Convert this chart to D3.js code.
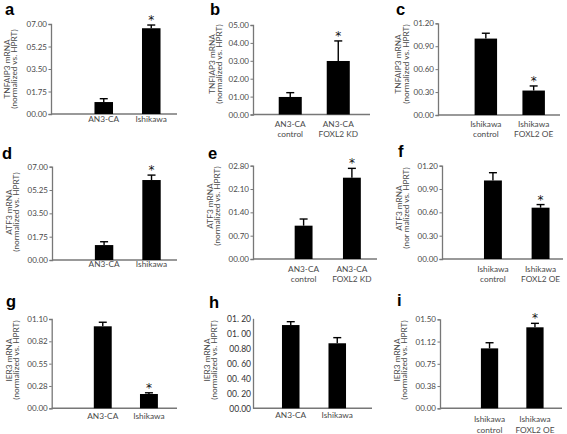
<!DOCTYPE html>
<html><head><meta charset="utf-8">
<script src="https://cdn.jsdelivr.net/npm/d3@7"></script>
<style>body{margin:0;background:#fff}svg{display:block}</style>
</head><body>
<svg id="chart" width="567" height="434"></svg>
<script>
// ---------- DATA ----------
const panelLetters = ["a","b","c","d","e","f","g","h","i"];
const geneLabels = ["TNFAIP3 mRNA","TNFIAP3 mRNA","TNFAIP3 mRNA","ATF3 mRNA","ATF3 mRNA","ATF3 mRNA","IER3 mRNA","IER3 mRNA","IER3 mRNA"];
const normLabels = ["(normalized vs. HPRT)","(normalized vs. HPRT)","(normalized vs. HPRT)","(normalized vs. HPRT)","(normalized vs. HPRT)","(nor malized vs. HPRT)","(normalized vs. HPRT)","(normalized vs. HPRT)","(normalized vs. HPRT)"];
const categories = [
  [["AN3-CA"],["Ishikawa"]],
  [["AN3-CA","control"],["AN3-CA","FOXL2 KD"]],
  [["Ishikawa","control"],["Ishikawa","FOXL2 OE"]],
  [["AN3-CA"],["Ishikawa"]],
  [["AN3-CA","control"],["AN3-CA","FOXL2 KD"]],
  [["Ishikawa","control"],["Ishikawa","FOXL2 OE"]],
  [["AN3-CA"],["Ishikawa"]],
  [["AN3-CA"],["Ishikawa"]],
  [["Ishikawa","control"],["Ishikawa","FOXL2 OE"]]
];
const means = [[0.93,6.67],[0.98,2.99],[1.00,0.32],[1.12,6.00],[1.00,2.44],[1.01,0.66],[1.01,0.176],[1.11,0.867],[1.01,1.365]];
const errors = [[0.26,0.25],[0.24,1.12],[0.07,0.06],[0.25,0.37],[0.20,0.28],[0.10,0.04],[0.05,0.015],[0.045,0.075],[0.095,0.067]];
const significant = [[false,true],[false,true],[false,true],[false,true],[false,true],[false,true],[false,true],[false,false],[false,true]];
const tickValues = [
  [0,1.75,3.5,5.25,7],
  [0,1,2,3,4,5],
  [0,0.3,0.6,0.9,1.2],
  [0,1.75,3.5,5.25,7],
  [0,0.7,1.4,2.1,2.8],
  [0,0.3,0.6,0.9,1.2],
  [0,0.275,0.55,0.825,1.1],
  [0,0.2,0.4,0.6,0.8,1.0,1.2],
  [0,0.375,0.75,1.125,1.5]
];
const tickLabels = [
  ["00.00","01.75","03.50","05.25","07.00"],
  ["00.00","01.00","02.00","03.00","04.00","05.00"],
  ["00.00","00.30","00.60","00.90","01.20"],
  ["00.00","01.75","03.50","05.25","07.00"],
  ["00.00","00.70","01.40","02.10","02.80"],
  ["00.00","00.30","00.60","00.90","01.20"],
  ["00.00","00.28","00.55","00.82","01.10"],
  ["00.00","00. 20","00. 40","00. 60","00.80","01. 00","01. 20"],
  ["00.00","00.38","00.75","01.12","01.50"]
];

// ---------- LAYOUT (pixels) ----------
const layout = [
  {ax:51, yt:24, yb:114, xe:177, r:[65.5,189.5], p:0.61, lo:7.5, lx:5, ly:15, l1:7, l2:14.5, cy:69},
  {ax:253, yt:25, yb:114.5, xe:370, r:[253.75,374.75], p:0.52, lo:12, lx:210, ly:15, l1:212, l2:219.5, cy:64},
  {ax:438, yt:23.3, yb:115, xe:560, r:[449.25,570.25], p:0.53, lo:11.5, lx:396, ly:15, l1:398, l2:406, cy:64},
  {ax:52, yt:166.7, yb:260, xe:177, r:[65.85,189.75], p:0.612, lo:7, lx:2, ly:159, l1:9, l2:16.5, cy:212},
  {ax:253, yt:165.7, yb:259, xe:377, r:[264.25,391.25], p:0.63, lo:12.5, lx:208, ly:159, l1:210, l2:217.5, cy:206},
  {ax:442, yt:165.7, yb:259, xe:563, r:[454.25,579.25], p:0.624, lo:12.5, lx:398, ly:157, l1:399, l2:406.5, cy:208},
  {ax:51.7, yt:319, yb:408.3, xe:177, r:[65.55,186.15], p:0.612, lo:11, lx:6, ly:307, l1:9, l2:16.5, cy:360},
  {ax:253, yt:318.3, yb:408.3, xe:372, r:[253,375], p:0.623, lo:9.5, lx:209, ly:308, l1:207, l2:214.5, cy:360},
  {ax:440, yt:319.3, yb:408.3, xe:562, r:[452.75,571.75], p:0.62, lo:14, lx:397, ly:306, l1:397, l2:404.5, cy:360}
];

const svg = d3.select("#chart");
const FONT = "Lato, 'Open Sans', sans-serif";
const TXT = "#4a4a4a";

panelLetters.forEach((letter, k) => {
  const L = layout[k];
  const g = svg.append("g");
  const cats = categories[k].map(c => c.join(" "));
  const x = d3.scaleBand().domain(cats).range(L.r).padding(L.p);
  const ymax = tickValues[k][tickValues[k].length - 1];
  const y = d3.scaleLinear().domain([0, ymax]).range([L.yb, L.yt]);

  // panel letter
  g.append("text").attr("x", L.lx).attr("y", L.ly).text(letter)
    .attr("font-family", "'Liberation Sans', Arial, sans-serif")
    .attr("font-weight", "bold").attr("font-size", 16.5).attr("fill", "#000");

  // y axis
  const ya = d3.axisLeft(y).tickValues(tickValues[k])
    .tickFormat((d, i) => tickLabels[k][i]).tickSize(k === 7 ? 0 : 2.5).tickPadding(k === 7 ? 2 : 1.5);
  const yg = g.append("g").attr("transform", `translate(${L.ax},0)`).call(ya);
  yg.select(".domain").attr("stroke", "#777").attr("stroke-width", 1.3);
  yg.selectAll(".tick line").attr("stroke", "#777");
  yg.selectAll(".tick text").attr("font-family", FONT)
    .attr("font-size", k === 7 ? 8.5 : 8).attr("fill", k === 7 ? "#333" : TXT);

  // x axis line
  g.append("line").attr("x1", L.ax).attr("x2", L.xe).attr("y1", L.yb).attr("y2", L.yb)
    .attr("stroke", "#777").attr("stroke-width", 1.5);

  // bars
  g.selectAll("rect.bar").data(means[k]).join("rect").attr("class", "bar")
    .attr("x", (d, i) => x(cats[i])).attr("width", x.bandwidth())
    .attr("y", d => y(d)).attr("height", d => L.yb - y(d)).attr("fill", "#000");

  // error bars (upper only)
  means[k].forEach((m, i) => {
    const cx = x(cats[i]) + x.bandwidth() / 2;
    const top = y(m + errors[k][i]);
    g.append("line").attr("x1", cx).attr("x2", cx).attr("y1", y(m)).attr("y2", top)
      .attr("stroke", "#000").attr("stroke-width", 1.4);
    g.append("line").attr("x1", cx - 4).attr("x2", cx + 4).attr("y1", top).attr("y2", top)
      .attr("stroke", "#000").attr("stroke-width", 1.4);
    if (significant[k][i]) {
      g.append("text").attr("x", cx).attr("y", top - 1).attr("text-anchor", "middle")
        .attr("font-family", "'DejaVu Sans', sans-serif").attr("font-size", 12).attr("fill", "#111")
        .text("*");
    }
    // category labels
    categories[k][i].forEach((line, j) => {
      g.append("text").attr("x", cx).attr("y", L.yb + L.lo + j * 10.5)
        .attr("text-anchor", "middle").attr("font-family", FONT)
        .attr("font-size", 8.3).attr("fill", TXT).text(line);
    });
  });

  // y labels
  [[geneLabels[k], L.l1], [normLabels[k], L.l2]].forEach(([t, lx]) => {
    g.append("text").attr("transform", `translate(${lx},${L.cy}) rotate(-90)`)
      .attr("text-anchor", "middle").attr("dy", "0.35em")
      .attr("font-family", FONT).attr("font-size", 8.3).attr("fill", TXT).text(t);
  });
});
</script>
</body></html>
